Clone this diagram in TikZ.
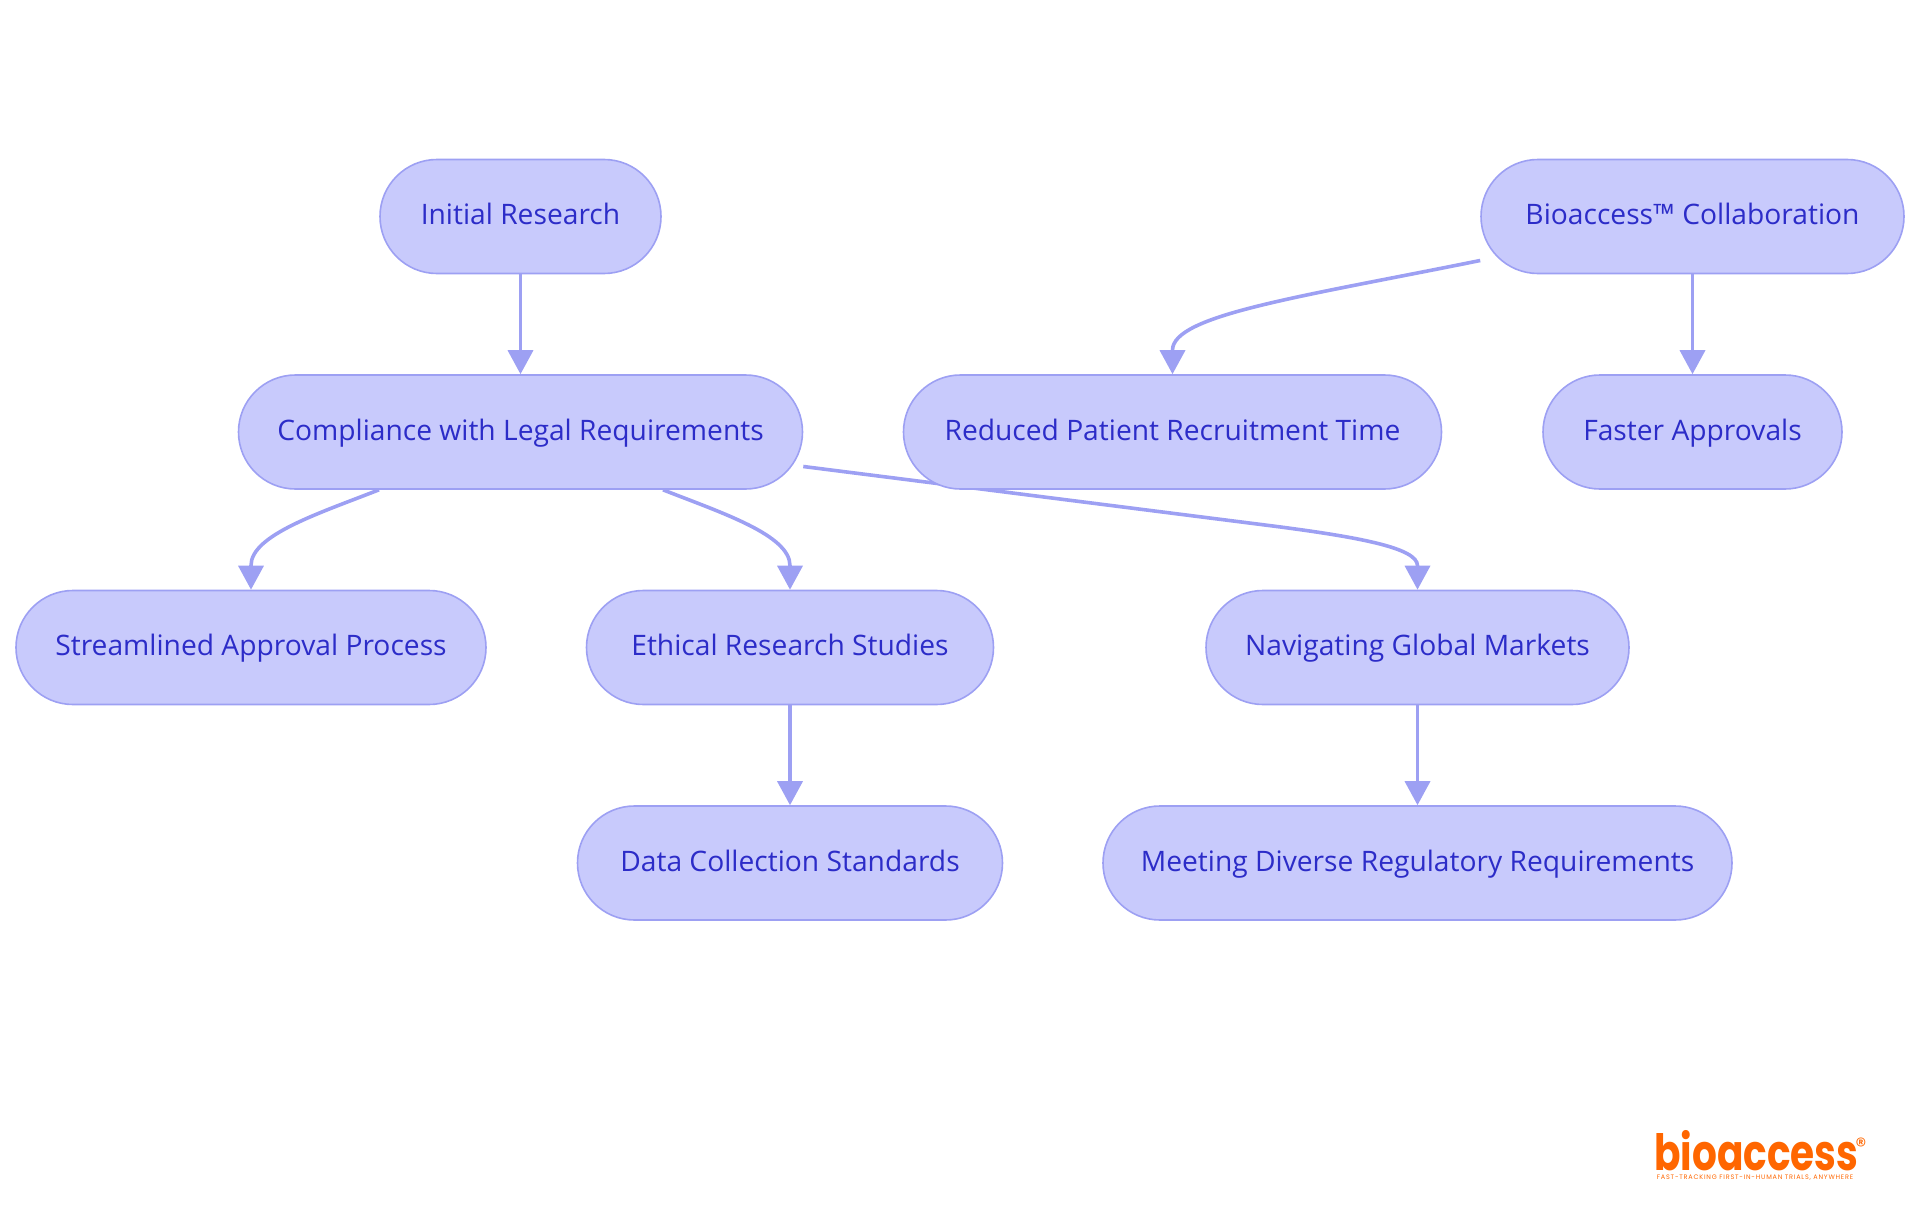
\documentclass[tikz,border=0pt]{standalone}
\usepackage{fontspec}
\setmainfont{Open Sans}
\newfontfamily\logofont{Poppins}
\usetikzlibrary{arrows.meta,backgrounds,calc}
\definecolor{boxfill}{RGB}{200,202,252}
\definecolor{boxline}{RGB}{157,160,243}
\definecolor{boxtext}{RGB}{44,44,200}
\definecolor{logoorange}{RGB}{255,102,0}
\tikzset{
  pill/.style={draw=boxline,fill=boxfill,line width=1.6pt,rounded corners=57pt,
    minimum height=114pt,inner sep=0pt,text=boxtext,text height=23pt,text depth=7pt,
    font=\fontsize{28.2pt}{33pt}\selectfont},
  link/.style={draw=boxline,line width=3.6pt,
    -{Triangle[length=24pt,width=25pt,fill=boxline]}},
  logotext/.style={inner sep=0pt,text=logoorange}
}
\begin{document}
\begin{tikzpicture}[x=1pt,y=-1pt]
\useasboundingbox (0,0) rectangle (1920,1215);
\node[pill,minimum width=281pt] (init) at (520.5,216.5) {Initial Research};
\node[pill,minimum width=564pt] (comp) at (520.5,432) {Compliance with Legal Requirements};
\node[pill,minimum width=538pt] (redu) at (1172.5,432) {Reduced Patient Recruitment Time};
\node[pill,minimum width=299pt] (fast) at (1692.5,432) {Faster Approvals};
\node[pill,minimum width=423pt] (bio) at (1692.5,216.5) {Bioaccess™ Collaboration};
\node[pill,minimum width=470pt] (stream) at (251,647.5) {Streamlined Approval Process};
\node[pill,minimum width=407pt] (eth) at (790,647.5) {Ethical Research Studies};
\node[pill,minimum width=423pt] (nav) at (1417.5,647.5) {Navigating Global Markets};
\node[pill,minimum width=425pt] (data) at (790,863) {Data Collection Standards};
\node[pill,minimum width=629pt] (meet) at (1417.5,863) {Meeting Diverse Regulatory Requirements};
\begin{scope}[on background layer]
\draw[link] (init) -- (comp);
\draw[link] (bio) -- (fast);
\draw[link] (eth) -- (data);
\draw[link] (nav) -- (meet);
\draw[link] ($(comp.south)+(-141.5,0)$) .. controls (320,513) and (250.6,535) .. ($(stream.north)+(0,-24)$) -- (stream.north);
\draw[link] ($(comp.south)+(142.5,0)$) .. controls (722,513) and (790,535) .. ($(eth.north)+(0,-24)$) -- (eth.north);
\draw[link] ($(comp.east)+(0,34.5)$) -- (1265,525) .. controls (1360,537) and (1417.5,548) .. ($(nav.north)+(0,-24)$) -- (nav.north);
\draw[link] ($(bio.west)+(0,44)$) .. controls (1300,297) and (1172.5,315) .. ($(redu.north)+(0,-24)$) -- (redu.north);
\end{scope}
\node[logotext,anchor=base west,font=\logofont\bfseries\fontsize{50pt}{50pt}\selectfont] (logo) at (1654,1170) {\scalebox{.78}[1]{bioaccess}};
\node[logotext,anchor=center,font=\logofont\fontsize{22pt}{22pt}\selectfont] (reg) at (1861,1146) {®};
\node[logotext,anchor=center,font=\logofont\fontsize{6.5pt}{7pt}\selectfont] (tag) at (1755,1178) {\addfontfeature{LetterSpace=12}FAST-TRACKING FIRST-IN-HUMAN TRIALS, ANYWHERE};
\end{tikzpicture}
\end{document}
